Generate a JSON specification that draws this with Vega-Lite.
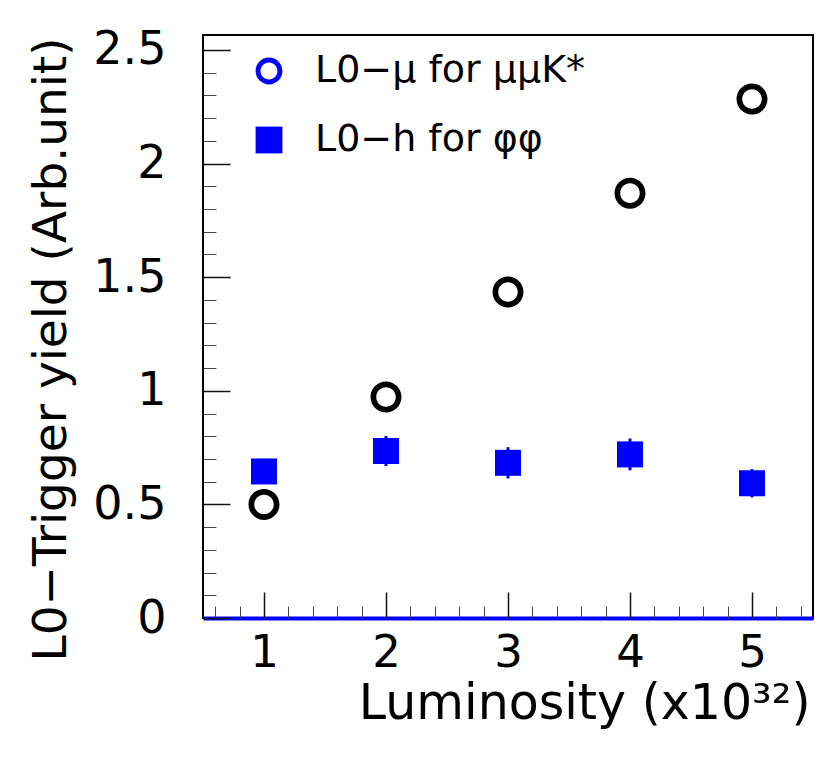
{
  "$schema": "https://vega.github.io/schema/vega-lite/v6.json",
  "width": 610,
  "height": 583,
  "autosize": {"type": "none"},
  "padding": {"left": 203, "top": 35, "right": 19, "bottom": 139},
  "background": "white",
  "config": {
    "view": {"stroke": "#000000", "strokeWidth": 2},
    "font": "DejaVu Sans",
    "axis": {"grid": false, "labelFont": "DejaVu Sans", "titleFont": "DejaVu Sans", "labelColor": "#000000", "titleColor": "#000000"}
  },
  "data": {
    "values": [
      {"lumi": 1, "yield": 0.5, "lo": null, "hi": null, "series": "L0−μ for μμK*"},
      {"lumi": 2, "yield": 0.973, "lo": null, "hi": null, "series": "L0−μ for μμK*"},
      {"lumi": 3, "yield": 1.435, "lo": null, "hi": null, "series": "L0−μ for μμK*"},
      {"lumi": 4, "yield": 1.87, "lo": null, "hi": null, "series": "L0−μ for μμK*"},
      {"lumi": 5, "yield": 2.284, "lo": null, "hi": null, "series": "L0−μ for μμK*"},
      {"lumi": 1, "yield": 0.645, "lo": 0.6, "hi": 0.69, "series": "L0−h for φφ"},
      {"lumi": 2, "yield": 0.735, "lo": 0.669, "hi": 0.801, "series": "L0−h for φφ"},
      {"lumi": 3, "yield": 0.683, "lo": 0.614, "hi": 0.752, "series": "L0−h for φφ"},
      {"lumi": 4, "yield": 0.72, "lo": 0.65, "hi": 0.79, "series": "L0−h for φφ"},
      {"lumi": 5, "yield": 0.593, "lo": 0.531, "hi": 0.655, "series": "L0−h for φφ"}
    ]
  },
  "resolve": {"axis": {"x": "independent", "y": "independent"}},
  "layer": [
    {
      "transform": [{"filter": "datum.series === 'L0−h for φφ'"}],
      "mark": {"type": "point", "filled": true, "color": "#0000ff", "size": 676, "opacity": 1, "strokeWidth": 0},
      "encoding": {
        "x": {
          "field": "lumi", "type": "quantitative",
          "scale": {"domain": [0.5, 5.5], "nice": false, "zero": false},
          "axis": {
            "orient": "bottom",
            "values": [1, 2, 3, 4, 5], "format": "d",
            "ticks": false, "tickSize": 0,
            "domain": true, "domainColor": "#0000ff", "domainWidth": 4,
            "labelFontSize": 45, "labelPadding": 12,
            "title": "Luminosity (x10³²)", "titleFontSize": 49, "titleFontWeight": "normal",
            "titleX": 607, "titleY": 100, "titleAlign": "right", "titleBaseline": "alphabetic"
          }
        },
        "y": {
          "field": "yield", "type": "quantitative",
          "scale": {"domain": [0, 2.566], "nice": false, "zero": false},
          "axis": {
            "orient": "left",
            "values": [0, 0.5, 1, 1.5, 2, 2.5], "format": ".1~f",
            "ticks": false, "tickSize": 0, "domain": false,
            "labelFontSize": 46, "labelPadding": 37,
            "title": "L0−Trigger yield (Arb.unit)", "titleFontSize": 47, "titleFontWeight": "normal",
            "titleX": -138, "titleY": 314, "titleAlign": "center", "titleBaseline": "alphabetic"
          }
        },
        "shape": {
          "field": "series", "type": "nominal",
          "scale": {
            "domain": ["L0−μ for μμK*", "L0−h for φφ"],
            "range": ["M-1,0A1,1,0,1,0,1,0A1,1,0,1,0,-1,0ZM-0.63,0A0.63,0.63,0,1,1,0.63,0A0.63,0.63,0,1,1,-0.63,0Z", "square"]
          },
          "legend": {
            "orient": "none", "legendX": 47, "legendY": 17, "title": null,
            "labelFontSize": 38, "labelFont": "DejaVu Sans", "labelColor": "#000000", "labelLimit": 0,
            "symbolSize": 720, "symbolStrokeWidth": 0, "symbolOpacity": 1,
            "rowPadding": 31, "labelOffset": 27, "padding": 0
          }
        }
      }
    },
    {
      "transform": [{"filter": "datum.series === 'L0−h for φφ'"}],
      "mark": {"type": "rule", "color": "#0000ff", "strokeWidth": 3},
      "encoding": {
        "x": {
          "field": "lumi", "type": "quantitative",
          "axis": {"orient": "bottom", "values": [1, 2, 3, 4, 5], "labels": false, "domain": false, "ticks": true, "tickSize": -26, "tickWidth": 1.5, "tickColor": "#111111", "title": null}
        },
        "y": {
          "field": "lo", "type": "quantitative",
          "axis": {"orient": "left", "values": [0, 0.5, 1, 1.5, 2, 2.5], "labels": false, "domain": false, "ticks": true, "tickSize": -27, "tickWidth": 1.5, "tickColor": "#111111", "title": null}
        },
        "y2": {"field": "hi"}
      }
    },
    {
      "transform": [{"filter": "datum.series === 'L0−μ for μμK*'"}],
      "mark": {"type": "point", "filled": true, "color": "#000000", "strokeWidth": 0, "size": 961, "opacity": 1},
      "encoding": {
        "x": {
          "field": "lumi", "type": "quantitative",
          "axis": {"orient": "bottom", "values": [0.6, 0.8, 1.2, 1.4, 1.6, 1.8, 2.2, 2.4, 2.6, 2.8, 3.2, 3.4, 3.6, 3.8, 4.2, 4.4, 4.6, 4.8, 5.2, 5.4], "labels": false, "domain": false, "ticks": true, "tickSize": -12, "tickWidth": 1, "tickColor": "#444444", "title": null}
        },
        "y": {
          "field": "yield", "type": "quantitative",
          "axis": {"orient": "left", "values": [0.1, 0.2, 0.3, 0.4, 0.6, 0.7, 0.8, 0.9, 1.1, 1.2, 1.3, 1.4, 1.6, 1.7, 1.8, 1.9, 2.1, 2.2, 2.3, 2.4], "labels": false, "domain": false, "ticks": true, "tickSize": -13, "tickWidth": 1, "tickColor": "#444444", "title": null}
        },
        "shape": {"field": "series", "type": "nominal"}
      }
    }
  ]
}
